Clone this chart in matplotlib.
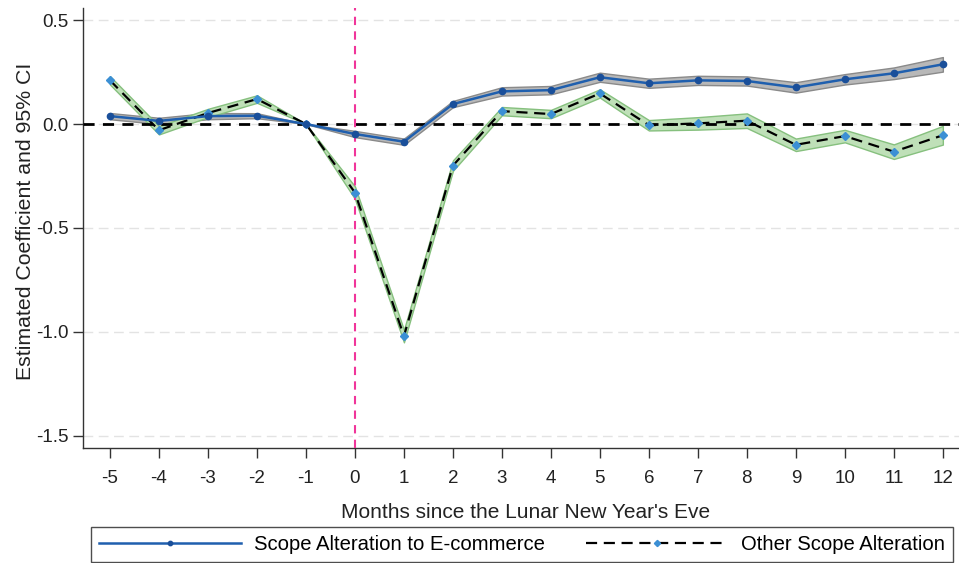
import numpy as np
import matplotlib
matplotlib.use("Agg")
import matplotlib.pyplot as plt

plt.rcParams["font.family"] = ["Liberation Sans", "DejaVu Sans"]
plt.rcParams["axes.unicode_minus"] = False

# --- data --- #
months = [-5, -4, -3, -2, -1, 0, 1, 2, 3, 4, 5, 6, 7, 8, 9, 10, 11, 12]

ecom_coef = [0.038, 0.015, 0.038, 0.040, 0.0, -0.048, -0.085, 0.096, 0.157,
             0.163, 0.225, 0.196, 0.210, 0.207, 0.176, 0.215, 0.244, 0.287]
ecom_ci = [0.015, 0.015, 0.015, 0.012, 0.0, 0.015, 0.015, 0.015, 0.020,
           0.020, 0.022, 0.022, 0.022, 0.022, 0.025, 0.025, 0.028, 0.035]

other_coef = [0.210, -0.030, 0.053, 0.120, 0.0, -0.330, -1.020, -0.200, 0.062,
              0.048, 0.147, -0.006, 0.003, 0.016, -0.100, -0.058, -0.133, -0.054]
other_ci = [0.020, 0.020, 0.020, 0.018, 0.0, 0.030, 0.030, 0.025, 0.020,
            0.020, 0.020, 0.025, 0.030, 0.035, 0.030, 0.030, 0.035, 0.045]

y_ticks = [0.5, 0.0, -0.5, -1.0, -1.5]


def main():
    x = np.array(months)
    e = np.array(ecom_coef)
    ec = np.array(ecom_ci)
    o = np.array(other_coef)
    oc = np.array(other_ci)

    fig = plt.figure(figsize=(9.59, 5.63), dpi=100)
    ax = fig.add_axes([0.0866, 0.2043, 0.9134, 0.7815])

    # light dashed grid
    for yv in y_ticks:
        ax.axhline(yv, color="#e3e3e3", lw=1.0, ls=(0, (7, 4)), zorder=0)

    # confidence bands
    ax.fill_between(x, e - ec, e + ec, facecolor="#b8b8b8",
                    edgecolor="#8a8a8a", lw=1.0, zorder=2)
    ax.fill_between(x, o - oc, o + oc, facecolor="#bfe0b8",
                    edgecolor="#86c07e", lw=1.0, zorder=2)

    ax.axhline(0, color="black", lw=2.0, ls=(0, (4, 3)), zorder=3)
    ax.axvline(0, color="#f0359a", lw=1.5, ls=(0, (4, 3)), zorder=3)

    l1, = ax.plot(x, e, "-", color="#1f5fae", lw=1.8, marker="o",
                  ms=4.5, mfc="#1a4f9a", mec="#1a4f9a", zorder=5,
                  label="Scope Alteration to E-commerce")
    l2, = ax.plot(x, o, color="black", lw=1.6, ls=(0, (5, 3)), marker="D",
                  ms=4.5, mfc="#3b8fd4", mec="#3b8fd4", zorder=4,
                  label="Other Scope Alteration")

    ax.set_xlim(-5.55, 12.33)
    ax.set_ylim(-1.558, 0.558)
    ax.set_xticks(months)
    ax.set_yticks(y_ticks)
    ax.set_yticklabels([f"{v:.1f}" for v in y_ticks])

    ax.spines["top"].set_visible(False)
    ax.spines["right"].set_visible(False)
    for sp in ["left", "bottom"]:
        ax.spines[sp].set_color("#333333")
        ax.spines[sp].set_linewidth(1.0)
    ax.tick_params(direction="out", length=7, width=1, colors="#333333",
                   labelsize=13.5, labelcolor="#222222")
    ax.tick_params(axis="x", pad=9)

    ax.set_xlabel("Months since the Lunar New Year's Eve", fontsize=15,
                  color="#222222")
    ax.xaxis.set_label_coords(0.505, -0.125)
    ax.set_ylabel("Estimated Coefficient and 95% CI", fontsize=15.3,
                  color="#222222")
    ax.yaxis.set_label_coords(-0.055, 0.514)

    leg = fig.legend(handles=[l1, l2], loc="lower left",
                     bbox_to_anchor=(91 / 959, 1 / 563), ncol=2,
                     fontsize=14.6, handlelength=7.0, handletextpad=0.65,
                     columnspacing=2.0, frameon=True, fancybox=False,
                     borderpad=0.4, borderaxespad=0, markerscale=0.7)
    leg.get_frame().set_edgecolor("#222222")
    leg.get_frame().set_linewidth(1.0)

    fig.savefig("out.png", dpi=100)


if __name__ == "__main__":
    main()
